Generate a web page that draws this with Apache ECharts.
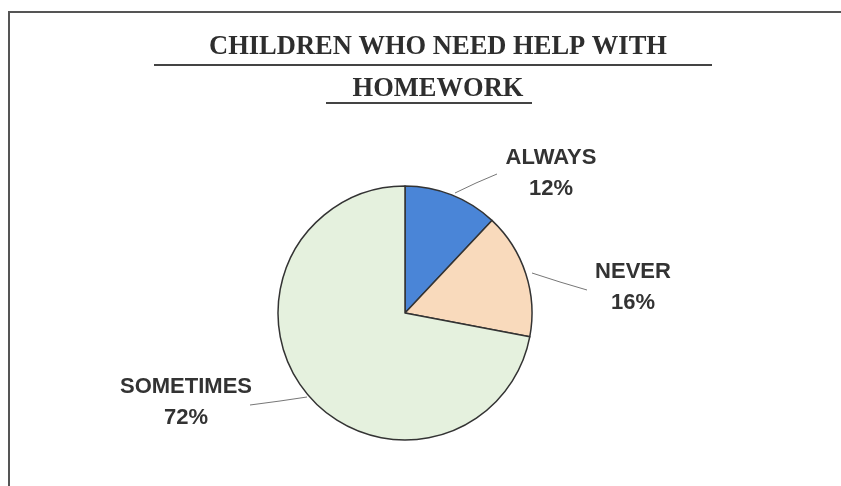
<!DOCTYPE html>
<html>
<head>
<meta charset="utf-8">
<script src="https://cdn.jsdelivr.net/npm/echarts@6/dist/echarts.min.js"></script>
<style>
html,body{margin:0;padding:0;background:#fff;}
#chart{width:841px;height:486px;}
</style>
</head>
<body>
<div id="chart"></div>
<script>
var titleLines = ['CHILDREN WHO NEED HELP WITH', 'HOMEWORK'];
var categories = ['ALWAYS', 'NEVER', 'SOMETIMES'];
var values = [12, 16, 72];
var colors = ['#4a85d7', '#f9dabc', '#e5f1de'];

// label placement (styling only)
var labelPos = [
  {x: 551, y: 173, line: [[455, 193], [476, 183], [497, 174]]},
  {x: 633, y: 287, line: [[532, 273], [560, 282], [587, 290]]},
  {x: 186, y: 402, line: [[307, 397], [280, 401], [250, 405]]}
];

var chart = echarts.init(document.getElementById('chart'), null, {renderer: 'canvas'});

var option = {
  backgroundColor: '#ffffff',
  animation: false,
  graphic: [
    {type: 'rect', shape: {x: 9, y: 12, width: 900, height: 600}, style: {fill: 'none', stroke: '#555', lineWidth: 2}, z: 0},
    {type: 'text', x: 438, y: 47, style: {text: titleLines[0], font: 'bold 26.5px "Liberation Serif"', fill: '#2e2e2e', align: 'center', verticalAlign: 'middle'}},
    {type: 'line', shape: {x1: 154, y1: 65, x2: 712, y2: 65}, style: {stroke: '#444', lineWidth: 2}},
    {type: 'text', x: 438, y: 89, style: {text: titleLines[1], font: 'bold 26.5px "Liberation Serif"', fill: '#2e2e2e', align: 'center', verticalAlign: 'middle'}},
    {type: 'line', shape: {x1: 326, y1: 103, x2: 532, y2: 103}, style: {stroke: '#444', lineWidth: 2}}
  ],
  series: [{
    type: 'pie',
    center: [405, 313],
    radius: 127,
    startAngle: 90,
    clockwise: true,
    data: categories.map(function (c, i) {
      return {name: c, value: values[i], itemStyle: {color: colors[i]}};
    }),
    itemStyle: {borderColor: '#333', borderWidth: 1.5},
    label: {
      show: true,
      position: 'outside',
      formatter: '{b}\n{d}%',
      fontFamily: '"Liberation Sans", Arial, sans-serif',
      fontWeight: 'bold',
      fontSize: 22,
      lineHeight: 31,
      color: '#333',
      align: 'center'
    },
    labelLine: {show: true, lineStyle: {color: '#777', width: 1}, smooth: false},
    labelLayout: function (params) {
      var p = labelPos[params.dataIndex];
      return {
        x: p.x,
        y: p.y,
        align: 'center',
        verticalAlign: 'middle',
        labelLinePoints: p.line
      };
    },
    emphasis: {disabled: true}
  }]
};
chart.setOption(option);
</script>
</body>
</html>
